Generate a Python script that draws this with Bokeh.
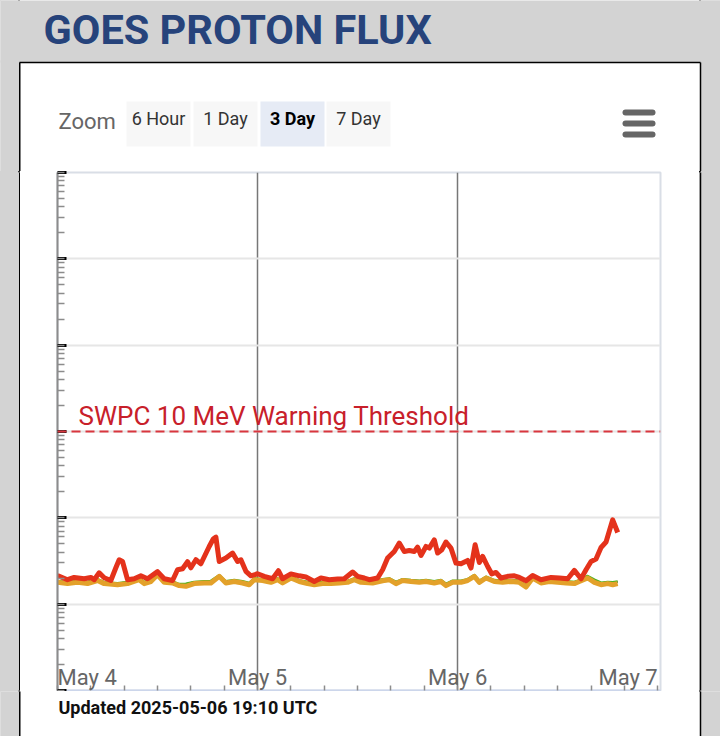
import pandas as pd
from bokeh.plotting import figure
from bokeh.layouts import column, row
from bokeh.models import (Range1d, FixedTicker, LogTicker, CustomJSTickFormatter,
                          Label, Span)
from bokeh.core.properties import value
from bokeh.embed import file_html
from bokeh.resources import INLINE

# ---------------- data (hours after 2025-05-04 00:00 UTC, flux in pfu) ----------------
start_time = "2025-05-04 00:00"
end_time = "2025-05-07 00:20"

red_hours = [0, 1.2, 2.0, 3.2, 4.0, 4.4, 5.0, 5.6, 6.4, 7.0, 7.4, 7.8, 8.4, 9.2, 10.0, 10.8,
             12.0, 12.8, 13.8, 14.4, 15.0, 15.6, 16.0, 16.6, 17.2, 18.2, 18.7, 19.0, 19.4,
             20.2, 21.0, 21.6, 22.0, 22.6, 23.2, 24.0, 24.8, 25.8, 26.5, 27.0, 28.0, 29.0,
             29.8, 30.8, 31.6, 32.6, 33.6, 34.4, 35.4, 36.0, 36.8, 37.4, 38.4, 39.0, 39.6,
             40.4, 41.0, 41.6, 42.2, 42.8, 43.2, 43.6, 44.2, 44.6, 45.2, 45.6, 46.1, 46.6,
             47.2, 47.8, 48.4, 49.2, 49.6, 50.1, 50.6, 51.0, 51.6, 52.1, 52.6, 53.2, 54.0,
             54.8, 55.4, 56.2, 57.0, 58.0, 59.2, 60.2, 61.2, 62.0, 62.8, 63.4, 64.0, 64.6,
             65.2, 65.8, 66.6, 67.2]
red_flux = [0.215, 0.192, 0.204, 0.197, 0.204, 0.192, 0.231, 0.202, 0.188, 0.264, 0.327, 0.312,
            0.192, 0.197, 0.213, 0.197, 0.238, 0.197, 0.188, 0.250, 0.257, 0.310, 0.264, 0.327,
            0.294, 0.466, 0.572, 0.598, 0.312, 0.342, 0.391, 0.312, 0.327, 0.240, 0.213, 0.225,
            0.210, 0.197, 0.244, 0.197, 0.224, 0.213, 0.206, 0.183, 0.201, 0.192, 0.196, 0.197,
            0.236, 0.210, 0.201, 0.192, 0.201, 0.250, 0.342, 0.408, 0.510, 0.408, 0.419, 0.408,
            0.458, 0.367, 0.466, 0.446, 0.557, 0.391, 0.427, 0.524, 0.446, 0.299, 0.294, 0.321,
            0.262, 0.488, 0.304, 0.357, 0.273, 0.224, 0.233, 0.201, 0.210, 0.213, 0.204, 0.187,
            0.215, 0.192, 0.204, 0.201, 0.197, 0.246, 0.197, 0.250, 0.312, 0.333, 0.454, 0.524,
            0.948, 0.676]

low_hours = [0, 1.2, 2.4, 3.6, 4.8, 5.6, 7.2, 8.4, 9.8, 10.4, 11.2, 12.0, 12.8, 13.8, 14.6,
             15.4, 16.4, 17.6, 18.4, 19.4, 20.2, 21.2, 22.2, 23.0, 23.6, 24.6, 25.6, 26.4,
             27.0, 28.0, 29.0, 30.0, 30.8, 31.8, 32.8, 33.8, 34.8, 35.6, 36.4, 37.8, 39.0,
             39.8, 40.6, 41.4, 42.4, 43.4, 44.2, 45.2, 46.0, 46.6, 47.4, 48.4, 49.2, 50.0,
             50.6, 51.4, 52.4, 53.4, 54.4, 55.4, 56.2, 57.0, 58.0, 59.0, 60.0, 61.0, 62.0,
             62.6, 63.6, 64.4, 65.2, 66.0, 66.6, 67.2]
orange_flux = [0.179, 0.173, 0.179, 0.173, 0.188, 0.173, 0.168, 0.173, 0.192, 0.173, 0.183,
               0.219, 0.179, 0.176, 0.164, 0.161, 0.173, 0.176, 0.176, 0.210, 0.176, 0.183,
               0.176, 0.168, 0.192, 0.188, 0.179, 0.192, 0.176, 0.201, 0.183, 0.173, 0.168,
               0.173, 0.173, 0.176, 0.179, 0.192, 0.179, 0.176, 0.187, 0.192, 0.173, 0.188,
               0.183, 0.179, 0.183, 0.176, 0.183, 0.164, 0.179, 0.179, 0.188, 0.210, 0.179,
               0.201, 0.183, 0.179, 0.183, 0.179, 0.158, 0.201, 0.176, 0.183, 0.179, 0.176,
               0.173, 0.183, 0.201, 0.179, 0.168, 0.173, 0.168, 0.173]
green_flux = [0.186, 0.180, 0.186, 0.181, 0.195, 0.180, 0.175, 0.181, 0.199, 0.181, 0.190,
              0.225, 0.186, 0.183, 0.171, 0.172, 0.181, 0.184, 0.186, 0.216, 0.184, 0.190,
              0.184, 0.176, 0.199, 0.195, 0.187, 0.199, 0.184, 0.208, 0.190, 0.181, 0.176,
              0.181, 0.181, 0.184, 0.186, 0.199, 0.187, 0.184, 0.194, 0.199, 0.181, 0.195,
              0.190, 0.187, 0.190, 0.184, 0.190, 0.172, 0.187, 0.187, 0.195, 0.217, 0.187,
              0.208, 0.190, 0.187, 0.191, 0.187, 0.166, 0.208, 0.184, 0.190, 0.187, 0.184,
              0.181, 0.190, 0.212, 0.192, 0.177, 0.181, 0.180, 0.183]
blue_flux = [0.184, 0.178, 0.184, 0.179, 0.193, 0.178, 0.173, 0.179, 0.197, 0.179, 0.188,
             0.223, 0.184, 0.181, 0.169, 0.170, 0.179, 0.182, 0.183, 0.214, 0.182, 0.188,
             0.182, 0.174, 0.197, 0.193, 0.185, 0.197, 0.182, 0.206, 0.188, 0.179, 0.174,
             0.179, 0.179, 0.182, 0.184, 0.197, 0.185, 0.182, 0.192, 0.197, 0.179, 0.193,
             0.188, 0.185, 0.188, 0.182, 0.188, 0.170, 0.185, 0.185, 0.193, 0.215, 0.185,
             0.206, 0.188, 0.185, 0.189, 0.185, 0.164, 0.206, 0.182, 0.188, 0.185, 0.182,
             0.179, 0.188, 0.209, 0.189, 0.175, 0.179, 0.178, 0.181]

threshold = 10
threshold_label = "SWPC 10 MeV Warning Threshold"
day_ticks = ["2025-05-04", "2025-05-05", "2025-05-06", "2025-05-07"]
day_labels = ["May 4", "May 5", "May 6", "May 7"]
zoom_buttons = ["6 Hour", "1 Day", "3 Day", "7 Day"]
selected_button = "3 Day"
title_text = "GOES PROTON FLUX"
updated_text = "Updated 2025-05-06 19:10 UTC"

# ---------------- helpers ----------------
t0 = pd.Timestamp(start_time)


def to_times(hours):
    return [t0 + pd.Timedelta(hours=h) for h in hours]


def ms(ts):
    return pd.Timestamp(ts).value / 1e6


day_ms = [ms(d) for d in day_ticks]
minor_ms = [ms(d) for d in pd.date_range(day_ticks[0], day_ticks[-1], freq="4h")]

FONT = "Roboto"
GREY = "#d3d3d3"


def plain(w, h, x0, x1, y0, y1, bg="white"):
    f = figure(width=w, height=h, x_range=Range1d(x0, x1), y_range=Range1d(y1, y0),
               toolbar_location=None, output_backend="svg",
               x_axis_location=None, y_axis_location=None,
               min_border=0, min_border_left=0, min_border_right=0,
               min_border_top=0, min_border_bottom=0,
               border_fill_color=bg, background_fill_color=bg, outline_line_color=None)
    f.xgrid.visible = False
    f.ygrid.visible = False
    return f


# ---------------- header (page title, box top, zoom buttons) ----------------
H = plain(720, 171, 0, 720, 0, 171)
H.quad(left=[-5], right=[725], top=[-5], bottom=[62], fill_color=GREY, line_color=None)
H.quad(left=[-5, 700], right=[19, 725], top=[60, 60], bottom=[176, 176],
       fill_color=GREY, line_color=None)
H.segment(x0=[19, 19.25, 700], y0=[62, 62, 62], x1=[700, 19.25, 700], y1=[62, 176, 176],
          line_color="black", line_width=1.5)
H.text(x=[43], y=[29], text=[title_text], text_font=value(FONT),
       text_font_style="bold", text_font_size="41.5px", text_color="#26437b",
       text_baseline="alphabetic")
H.text(x=[58], y=[121], text=["Zoom"], text_font=value(FONT), text_font_size="22px",
       text_color="#666666", text_baseline="alphabetic")
btn_lefts = [126, 193, 260, 326]
for name, bl in zip(zoom_buttons, btn_lefts):
    sel = name == selected_button
    H.quad(left=[bl], right=[bl + 64], top=[101], bottom=[146],
           fill_color="#e6ebf5" if sel else "#f7f7f7", line_color=None)
    H.text(x=[bl + 32], y=[118], text=[name], text_font=value(FONT), text_font_size="18px",
           text_font_style="bold" if sel else "normal",
           text_color="#000000" if sel else "#333333",
           text_align="center", text_baseline="alphabetic")
H.segment(x0=[625, 625, 625], y0=[112, 123, 134], x1=[652, 652, 652], y1=[112, 123, 134],
          line_color="#666666", line_width=6, line_cap="round")

# ---------------- side strips ----------------
L = plain(20, 520, 0, 20, 171, 691, bg=GREY)
L.segment(x0=[19.25], y0=[165], x1=[19.25], y1=[697], line_color="black", line_width=1.5)
R = plain(21, 520, 699, 720, 171, 691, bg=GREY)
R.quad(left=[698], right=[700], top=[165], bottom=[697], fill_color="white", line_color=None)
R.segment(x0=[700], y0=[165], x1=[700], y1=[697], line_color="black", line_width=1.5)

# ---------------- chart ----------------
C = figure(width=679, height=520, x_axis_type="datetime", y_axis_type="log",
           x_range=Range1d(pd.Timestamp(start_time), pd.Timestamp(end_time)),
           y_range=Range1d(1e-2, 1e4),
           toolbar_location=None, output_backend="svg",
           min_border_left=37, min_border_right=39, min_border_top=1, min_border_bottom=1,
           border_fill_color="white", background_fill_color="white",
           outline_line_color="#d9dee6", outline_line_width=2)

empty = CustomJSTickFormatter(code="return ''")
C.xaxis.ticker = FixedTicker(ticks=day_ms, minor_ticks=minor_ms)
C.xaxis.formatter = empty
C.xaxis.major_label_text_font_size = "0px"
C.xaxis.major_label_standoff = 0
C.xaxis.major_tick_in = 0
C.xaxis.major_tick_out = 0
C.xaxis.minor_tick_in = 5
C.xaxis.minor_tick_out = 0
C.xaxis.minor_tick_line_color = "#8c8c8c"
C.xaxis.minor_tick_line_width = 1.5
C.xaxis.axis_line_color = "#ccd6eb"
C.xaxis.axis_line_width = 2

ylog = LogTicker(mantissas=[1], desired_num_ticks=7, num_minor_ticks=10)
C.yaxis.ticker = ylog
C.yaxis.formatter = empty
C.yaxis.major_label_text_font_size = "0px"
C.yaxis.major_label_standoff = 0
C.yaxis.major_tick_in = 9
C.yaxis.major_tick_out = 0
C.yaxis.major_tick_line_width = 3
C.yaxis.major_tick_line_color = "black"
C.yaxis.minor_tick_in = 7
C.yaxis.minor_tick_out = 0
C.yaxis.minor_tick_line_color = "#8c8c8c"
C.yaxis.minor_tick_line_width = 1.5
C.yaxis.axis_line_color = "#8c8c8c"
C.yaxis.axis_line_width = 2

C.xgrid.ticker = FixedTicker(ticks=day_ms[1:-1])
C.xgrid.grid_line_color = "#777777"
C.xgrid.grid_line_width = 1.5
C.ygrid.ticker = ylog
C.ygrid.grid_line_color = "#e6e6e6"
C.ygrid.grid_line_width = 2

C.line(to_times(low_hours), blue_flux, line_color="#1f3f86", line_width=2, line_join="round")
C.line(to_times(low_hours), green_flux, line_color="#4fb21f", line_width=2.5, line_join="round")
C.line(to_times(low_hours), orange_flux, line_color="#e3a12a", line_width=5, line_join="round")
C.line(to_times(red_hours), red_flux, line_color="#e4321b", line_width=5, line_join="round")

C.add_layout(Span(location=threshold, dimension="width", line_color="#d9363e",
                  line_dash="9 5", line_width=2))
C.add_layout(Label(x=21, y=275, x_units="screen", y_units="screen", text=threshold_label,
                   text_font=FONT, text_font_size="26px", text_color="#c8202a",
                   text_baseline="alphabetic"))

aligns = ["left", "center", "center", "right"]
for lbl, d, al in zip(day_labels, day_ms, aligns):
    C.add_layout(Label(x=d, y=13, x_units="data", y_units="screen", text=lbl,
                       text_align=al, text_baseline="alphabetic", text_font=FONT,
                       text_font_size="22px", text_color="#666666"))

# ---------------- footer ----------------
F = plain(720, 45, 0, 720, 691, 736)
F.quad(left=[-5, 700], right=[19, 725], top=[686, 686], bottom=[740, 740],
       fill_color=GREY, line_color=None)
F.segment(x0=[19.25, 700], y0=[686, 686], x1=[19.25, 700], y1=[740, 740],
          line_color="black", line_width=1.5)
F.text(x=[58], y=[707], text=[updated_text], text_font=value(FONT), text_font_style="bold",
       text_font_size="18px", text_color="#111111", text_baseline="alphabetic")

# page backdrop matching the box edges, so joins between the pieces stay invisible
backdrop = ("linear-gradient(to right, #d3d3d3 0px, #d3d3d3 18.5px, #000000 18.5px, "
            "#000000 20px, #ffffff 20px, #ffffff 699.25px, #000000 699.25px, "
            "#000000 700.75px, #d3d3d3 700.75px, #d3d3d3 720px)")
page = column(H, row(L, C, R, spacing=0), F, spacing=0,
              styles={"background": backdrop})

open("out.html", "w").write(file_html(page, INLINE))
